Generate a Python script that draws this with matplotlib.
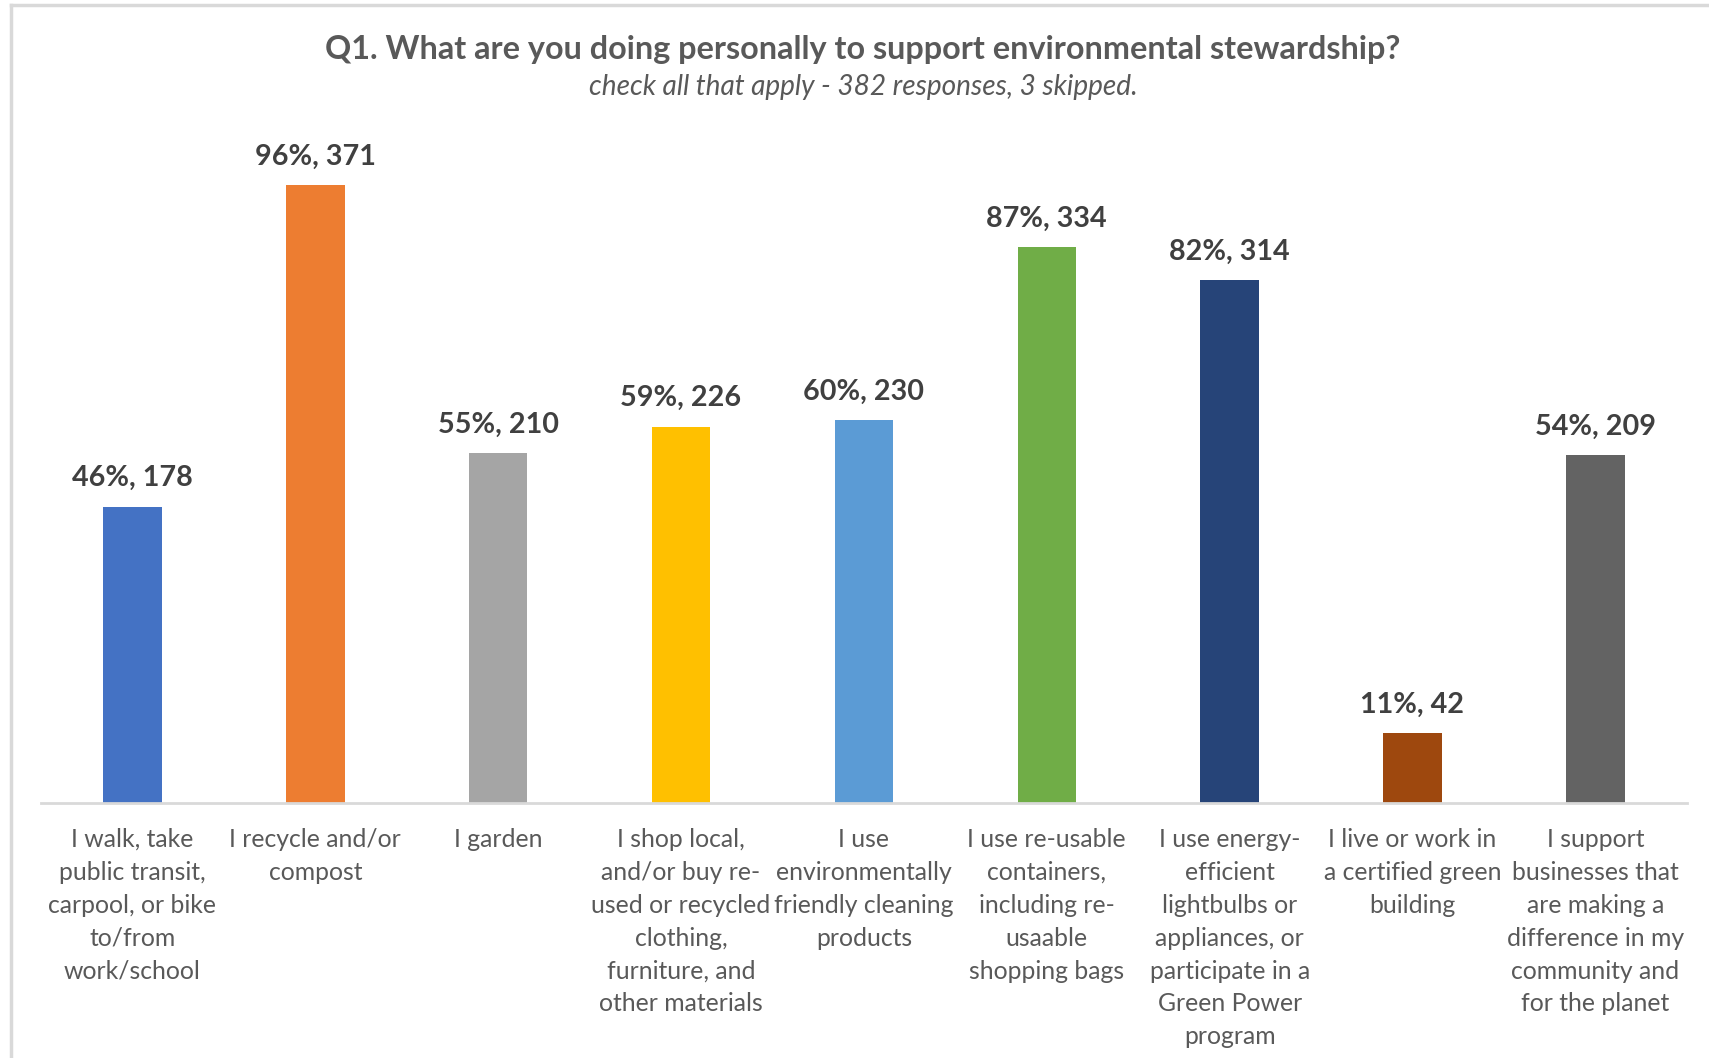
import matplotlib.pyplot as plt
from matplotlib.lines import Line2D

# survey answers, Q1 (check all that apply)
categories = [
    'I walk, take\npublic transit,\ncarpool, or bike\nto/from\nwork/school',
    'I recycle and/or\ncompost',
    'I garden',
    'I shop local,\nand/or buy re-\nused or recycled\nclothing,\nfurniture, and\nother materials',
    'I use\nenvironmentally\nfriendly cleaning\nproducts',
    'I use re-usable\ncontainers,\nincluding re-\nusaable\nshopping bags',
    'I use energy-\nefficient\nlightbulbs or\nappliances, or\nparticipate in a\nGreen Power\nprogram',
    'I live or work in\na certified green\nbuilding',
    'I support\nbusinesses that\nare making a\ndifference in my\ncommunity and\nfor the planet',
]
counts = [178, 371, 210, 226, 230, 334, 314, 42, 209]
percents = [46, 96, 55, 59, 60, 87, 82, 11, 54]
colors = ['#4472C4', '#ED7D31', '#A5A5A5', '#FFC000', '#5B9BD5',
          '#70AD47', '#264478', '#9E480E', '#636363']

plt.rcParams['font.family'] = ['Lato', 'DejaVu Sans']

fig = plt.figure(figsize=(17.09, 10.58), dpi=100)
ax = fig.add_axes([0.024, 0.241, 0.963, 0.6295])

x = range(len(counts))
ax.bar(x, counts, width=0.32, color=colors)

for i, (c, p) in enumerate(zip(counts, percents)):
    ax.annotate('{:d}%, {:d}'.format(p, c), (i, c), xytext=(0, 20.5),
                textcoords='offset points', ha='center', va='center',
                fontsize=20.7, fontweight='bold', color='#404040')

ax.set_xlim(-0.5, len(counts) - 0.5)
ax.set_ylim(0, 400)
ax.set_yticks([])
ax.set_xticks(list(x))
ax.set_xticklabels(categories, fontsize=17.8, color='#595959', linespacing=1.52)
ax.tick_params(axis='x', length=0, pad=18)
for s in ['top', 'right', 'left']:
    ax.spines[s].set_visible(False)
ax.spines['bottom'].set_color('#D9D9D9')
ax.spines['bottom'].set_linewidth(2)

fig.text(0.505, 1 - 50 / 1058, 'Q1. What are you doing personally to support environmental stewardship?',
         ha='center', va='center', fontsize=23.3, fontweight='bold', color='#595959')
fig.text(0.505, 1 - 87 / 1058, 'check all that apply - 382 responses, 3 skipped.',
         ha='center', va='center', fontsize=20.2, style='italic', color='#595959')

# chart border (only top and left edges are visible in the crop)
fig.add_artist(Line2D([11 / 1709, 1], [1 - 5 / 1058, 1 - 5 / 1058], color='#D9D9D9', lw=2.5))
fig.add_artist(Line2D([11 / 1709, 11 / 1709], [0, 1 - 5 / 1058], color='#D9D9D9', lw=2.5))

fig.savefig('out.png', dpi=100)
